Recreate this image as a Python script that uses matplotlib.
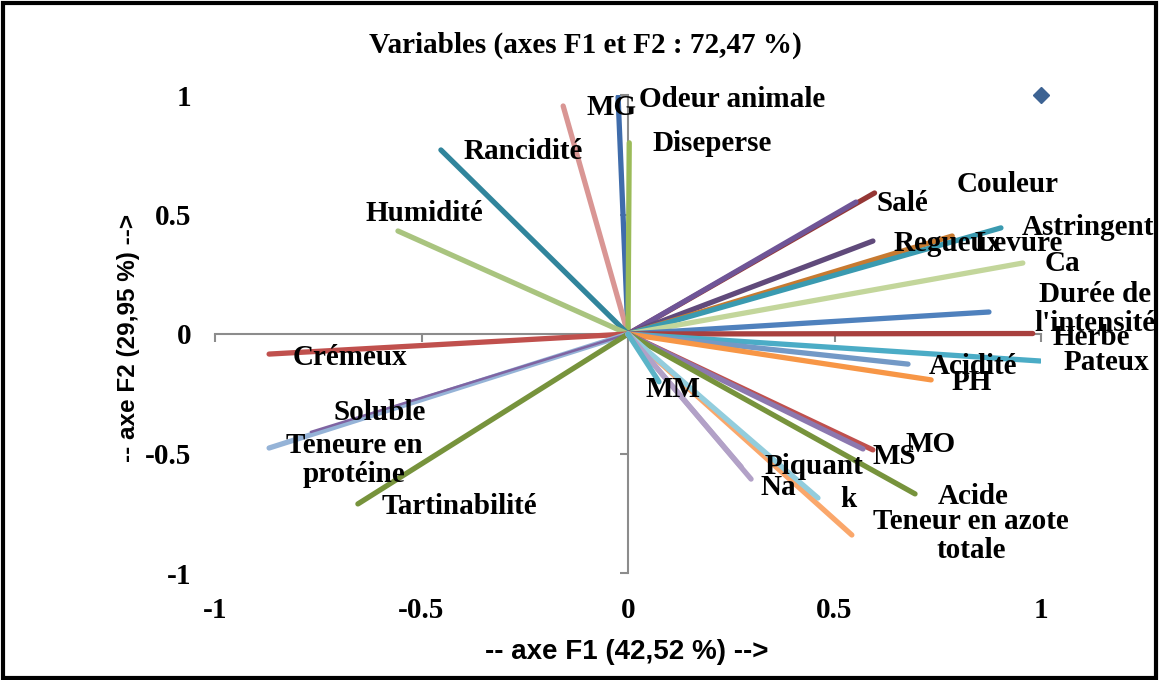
import matplotlib.pyplot as plt
from matplotlib.patches import Rectangle

# Cercle des corrélations : coordonnées des variables sur F1 et F2
variables = ['Odeur animale', 'MG', 'Diseperse', 'Rancidité', 'Humidité',
             'Crémeux', 'Teneure en\nprotéine', 'Soluble', 'Tartinabilité',
             'Couleur', 'Salé', 'Regueux', 'Levure', 'Astringent', 'Ca',
             "Durée de\nl'intensité", 'Herbe', 'Pateux', 'Acidité', 'PH',
             'MO', 'MS', 'Acide', 'Teneur en azote\ntotale', 'k', 'Piquant',
             'Na', 'MM']
f1 = [-0.024, -0.157, 0.003, -0.453, -0.557,
      -0.869, -0.869, -0.768, -0.654,
      0.597, 0.552, 0.593, 0.785, 0.903, 0.956,
      0.874, 0.980, 0.998, 0.678, 0.734,
      0.593, 0.569, 0.695, 0.542, 0.460, 0.274,
      0.298, 0.075]
f2 = [0.992, 0.954, 0.800, 0.770, 0.431,
      -0.084, -0.477, -0.410, -0.711,
      0.590, 0.552, 0.389, 0.410, 0.444, 0.297,
      0.092, 0.002, -0.113, -0.126, -0.192,
      -0.485, -0.481, -0.669, -0.841, -0.686, -0.556,
      -0.607, -0.200]

couleurs = ['#3F6CAB', '#D99694', '#9BBB59', '#31859C', '#A9C47F',
            '#C0504D', '#95B3D7', '#7F64A2', '#77933C',
            '#953735', '#6F5597', '#604A7B', '#C77A30', '#3A9AB0', '#C3D69B',
            '#4F81BD', '#A8403E', '#4BACC6', '#7399C6', '#F79646',
            '#C0504D', '#8C78AF', '#77933C', '#FAA76B', '#93CDDD', '#B2A1C7',
            '#B2A1C7', '#5BB4C8']

# décalage des étiquettes (pixels, y vers le haut) par rapport à l'extrémité du vecteur
decalages = [(21, -3), (23, -2), (23, -1), (23, -2), (-32, 17),
             (24, -3), (85, -12), (23, 19), (24, -3),
             (82, 8), (21, -1), (21, -2), (22, -7), (21, 0), (22, 0),
             (106, 3), (20, -4), (23, -1), (21, -2), (20, -3),
             (33, 5), (10, -8), (23, -3), (119, -1), (22, -2), (23, 0),
             (9, -8), (-13, -8)]
centres = ['Teneure en\nprotéine', "Durée de\nl'intensité", 'Teneur en azote\ntotale']

serif = 'Liberation Serif'
sans = 'Liberation Sans'

fig = plt.figure(figsize=(11.59, 6.8), dpi=100)
pos = [215 / 1159, 1 - 573 / 680, 826 / 1159, 478 / 680]

# axes des étiquettes de graduation (sur les bords)
ax_lbl = fig.add_axes(pos)
ax_lbl.set_xlim(-1, 1)
ax_lbl.set_ylim(-1, 1)
ax_lbl.set_xticks([-1, -0.5, 0, 0.5, 1])
ax_lbl.set_yticks([-1, -0.5, 0, 0.5, 1])
ax_lbl.set_xticklabels(['-1', '-0.5', '0', '0.5', '1'])
ax_lbl.set_yticklabels(['-1', '-0.5', '0', '0.5', '1'])
ax_lbl.tick_params(length=0, pad=17, labelsize=21)
for t in ax_lbl.get_xticklabels() + ax_lbl.get_yticklabels():
    t.set_fontfamily(serif)
    t.set_fontweight('bold')
for s in ax_lbl.spines.values():
    s.set_visible(False)
ax_lbl.patch.set_visible(False)

# axes principaux, croisés à l'origine
ax = fig.add_axes(pos)
ax.patch.set_visible(False)
ax.set_xlim(-1, 1)
ax.set_ylim(-1, 1)
ax.spines['left'].set_position(('data', 0))
ax.spines['bottom'].set_position(('data', 0))
ax.spines['top'].set_visible(False)
ax.spines['right'].set_visible(False)
for s in ['left', 'bottom']:
    ax.spines[s].set_color('#8C8C8C')
    ax.spines[s].set_linewidth(1.5)
ax.set_xticks([-1, -0.5, 0, 0.5, 1])
ax.set_yticks([-1, -0.5, 0, 0.5, 1])
ax.tick_params(direction='out', length=6, width=1.5, color='#8C8C8C',
               labelbottom=False, labelleft=False)

for nom, x, y, c, (dx, dy) in zip(variables, f1, f2, couleurs, decalages):
    lw = 1.8 if nom == 'Soluble' else 3.8
    ax.plot([0, x], [0, y], color=c, linewidth=lw, solid_capstyle='round', zorder=3)
    ha = 'center' if nom in centres else 'left'
    ax.annotate(nom, (x, y), xytext=(dx, dy), textcoords='offset pixels',
                ha=ha, va='center', multialignment='center', linespacing=1.1,
                fontsize=21, fontweight='bold', family=serif, zorder=5,
                annotation_clip=False)

ax.plot([1], [1], marker='D', markersize=8, color='#3D6393', clip_on=False, zorder=4)

fig.text(585 / 1159, 1 - 45 / 680, 'Variables (axes F1 et F2 : 72,47 %)',
         ha='center', va='center', fontsize=21, fontweight='bold', family=serif)
fig.text(627 / 1159, 1 - 652 / 680, '-- axe F1 (42,52 %) -->',
         ha='center', va='center', fontsize=20, fontweight='bold', family=sans)
fig.text(128 / 1159, 1 - 338 / 680, '-- axe F2 (29,95 %) -->', rotation=90,
         ha='center', va='center', fontsize=17.5, fontweight='bold', family=sans)

# cadre autour de la figure
fig.patches.append(Rectangle((0.003, 0.003), 0.994, 0.993, transform=fig.transFigure,
                             fill=False, edgecolor='black', linewidth=3))

fig.savefig('out.png', dpi=100)
